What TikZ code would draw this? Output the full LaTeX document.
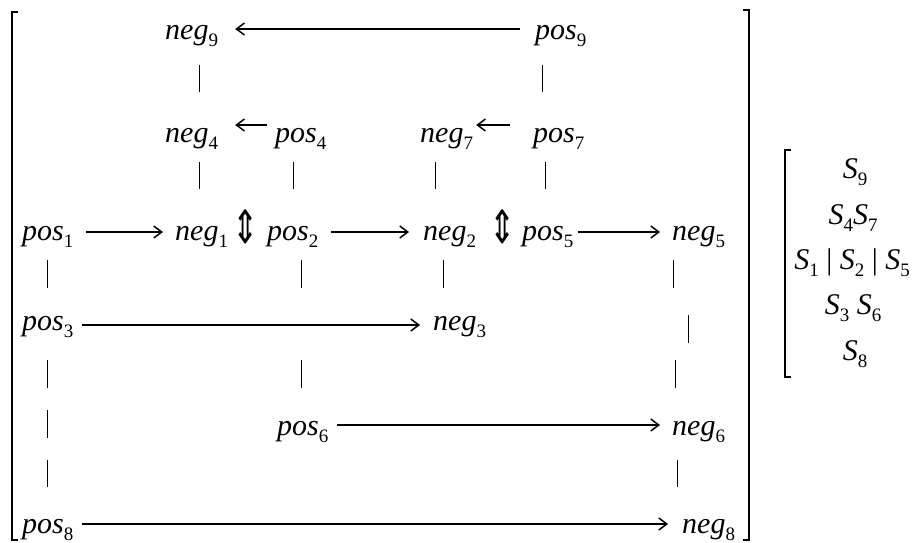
\documentclass[tikz,border=0pt]{standalone}
\usepackage{fontspec}
\setmainfont{Liberation Serif}
\newfontfamily\symfont{DejaVu Sans}
\usetikzlibrary{arrows.meta}
\newcommand\tm[2]{\fontsize{30}{30}\selectfont\itshape #1\raisebox{-7pt}{\fontsize{19}{19}\selectfont\upshape #2}}
\newcommand\sm[1]{\raisebox{-7pt}{\fontsize{19}{19}\selectfont\upshape #1}}
\newcommand\updn{\scalebox{0.68}[1]{⇕}}
\begin{document}
\begin{tikzpicture}[x=1pt,y=-1pt,
  lab/.style={inner sep=0pt, anchor=base west},
  arr/.style={line width=1.6pt, -{Straight Barb[length=8pt,width=12pt,line width=1.5pt]}},
  bar/.style={line width=0.9pt},
  brk/.style={line width=1.8pt},
  sym/.style={inner sep=0pt, font=\symfont\fontsize{46}{46}\selectfont}]
\useasboundingbox (0,0) rectangle (918,543);
% brackets
\draw[brk] (18,12) -- (12,12) -- (12,540) -- (18,540);
\draw[brk] (743,10) -- (749,10) -- (749,540) -- (743,540);
\draw[brk] (791,150) -- (785,150) -- (785,377) -- (791,377);
% nodes
\node[lab] (neg9) at (165,40) {\tm{neg}{9}};
\node[lab] (pos9) at (535,40) {\tm{pos}{9}};
\node[lab] (neg4) at (165,142) {\tm{neg}{4}};
\node[lab] (pos4) at (275,142) {\tm{pos}{4}};
\node[lab] (neg7) at (420,142) {\tm{neg}{7}};
\node[lab] (pos7) at (533,142) {\tm{pos}{7}};
\node[lab] (pos1) at (22,240) {\tm{pos}{1}};
\node[lab] (neg1) at (175,240) {\tm{neg}{1}};
\node[sym] (ud1) at (246,227) {\updn};
\node[lab] (pos2) at (267,240) {\tm{pos}{2}};
\node[lab] (neg2) at (423,240) {\tm{neg}{2}};
\node[sym] (ud2) at (503,227) {\updn};
\node[lab] (pos5) at (522,240) {\tm{pos}{5}};
\node[lab] (neg5) at (672,240) {\tm{neg}{5}};
\node[lab] (pos3) at (22,330) {\tm{pos}{3}};
\node[lab] (neg3) at (433,330) {\tm{neg}{3}};
\node[lab] (pos6) at (277,435) {\tm{pos}{6}};
\node[lab] (neg6) at (672,435) {\tm{neg}{6}};
\node[lab] (pos8) at (22,533) {\tm{pos}{8}};
\node[lab] (neg8) at (682,533) {\tm{neg}{8}};
% S column
\begin{scope}[every node/.style={inner sep=0pt, anchor=base, font=\fontsize{30}{30}\selectfont\itshape}]
\node (s9) at (855,178) {S\sm{9}};
\node (s47) at (853,224) {S\sm{4}S\sm{7}};
\node (s125) at (852,269) {S\sm{1} {\upshape|} S\sm{2} {\upshape|} S\sm{5}};
\node (s36) at (853,314) {S\sm{3} S\sm{6}};
\node (s8) at (855,360) {S\sm{8}};
\end{scope}
% arrows
\draw[arr] ([shift={(-15pt,11pt)}]pos9.base west) -- ([shift={(17pt,11pt)}]neg9.base east);
\draw[arr] ([shift={(-8pt,17pt)}]pos4.base west) -- ([shift={(17pt,17pt)}]neg4.base east);
\draw[arr] ([shift={(-23pt,17pt)}]pos7.base west) -- ([shift={(3pt,17pt)}]neg7.base east);
\draw[arr] ([shift={(12pt,8pt)}]pos1.base east) -- ([shift={(-12pt,8pt)}]neg1.base west);
\draw[arr] ([shift={(12pt,8pt)}]pos2.base east) -- ([shift={(-14pt,8pt)}]neg2.base west);
\draw[arr] ([shift={(4pt,8pt)}]pos5.base east) -- ([shift={(-12pt,8pt)}]neg5.base west);
\draw[arr] ([shift={(8pt,5pt)}]pos3.base east) -- ([shift={(-13pt,5pt)}]neg3.base west);
\draw[arr] ([shift={(8pt,10pt)}]pos6.base east) -- ([shift={(-12pt,10pt)}]neg6.base west);
\draw[arr] ([shift={(8pt,9pt)}]pos8.base east) -- ([shift={(-14pt,9pt)}]neg8.base west);
% vertical bars
\draw[bar] (199,65) -- (199,92);
\draw[bar] (542,65) -- (542,92);
\draw[bar] (199,162) -- (199,189);
\draw[bar] (293,162) -- (293,189);
\draw[bar] (435,162) -- (435,189);
\draw[bar] (545,162) -- (545,189);
\draw[bar] (47,260) -- (47,288);
\draw[bar] (301,260) -- (301,288);
\draw[bar] (443,260) -- (443,288);
\draw[bar] (673,260) -- (673,288);
\draw[bar] (688,315) -- (688,343);
\draw[bar] (47,360) -- (47,388);
\draw[bar] (301,360) -- (301,388);
\draw[bar] (675,360) -- (675,388);
\draw[bar] (47,410) -- (47,438);
\draw[bar] (47,460) -- (47,487);
\draw[bar] (677,460) -- (677,487);
\end{tikzpicture}
\end{document}
